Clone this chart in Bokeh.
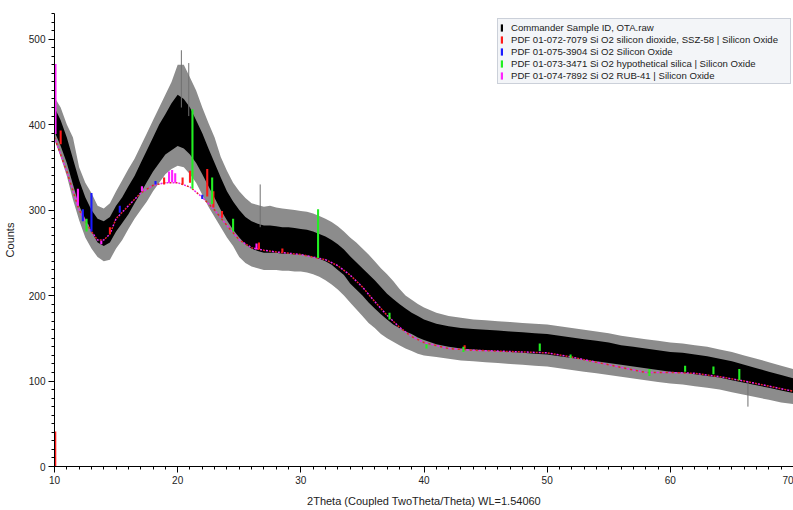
from bokeh.plotting import figure
from bokeh.models import Legend, LegendItem, Range1d, FixedTicker, ColumnDataSource
from bokeh.embed import file_html
from bokeh.resources import INLINE

# ---------------- data ----------------
two_theta = [10.0, 10.5, 11.0, 11.5, 12.0, 12.5, 13.0, 13.5, 14.0, 14.5,
             15.0, 15.5, 16.0, 16.5, 17.0, 17.5, 18.0, 18.5, 19.0, 19.5,
             20.0, 20.5, 21.0, 21.5, 22.0, 22.5, 23.0, 23.5, 24.0, 24.5,
             25.0, 25.5, 26.0, 26.5, 27.0, 27.5, 28.0, 28.5, 29.0, 29.5,
             30.0, 30.5, 31.0, 31.5, 32.0, 32.5, 33.0, 33.5, 34.0, 34.5,
             35.0, 35.5, 36.0, 36.5, 37.0, 37.5, 38.0, 38.5, 39.0, 39.5,
             40.0, 41, 42, 43, 44, 45, 46, 47, 48, 49, 50, 51, 52, 53, 54,
             55, 56, 57, 58, 59, 60, 61, 62, 63, 64, 65, 66, 67, 68, 69, 70]

# dense (black) part of the measured counts
core_lo = [392, 375, 355, 330, 305, 290, 275, 262, 258, 262,
           275, 285, 295, 308, 320, 333, 345, 355, 365, 370,
           375, 372, 365, 355, 342, 328, 314, 300, 288, 277,
           268, 260, 255, 252, 250, 250, 250, 249, 249, 248,
           248, 247, 245, 243, 240, 236, 230, 224, 214, 207,
           200, 192, 185, 178, 172, 166, 162, 158, 155, 151,
           148, 143, 140, 138, 137, 136, 135, 134, 133, 132, 131, 129, 127, 125, 123,
           121, 119, 117, 115, 113, 111, 110, 108, 106, 104, 101, 98, 95, 92, 89, 86]
core_hi = [420, 405, 385, 360, 335, 315, 300, 290, 287, 292,
           305, 315, 328, 340, 355, 370, 385, 400, 412, 425,
           435, 430, 420, 405, 390, 372, 355, 338, 322, 310,
           300, 292, 287, 284, 282, 282, 281, 280, 280, 279,
           278, 277, 275, 272, 269, 265, 260, 254, 246, 239,
           232, 225, 218, 210, 202, 196, 190, 185, 180, 176,
           172, 167, 164, 162, 161, 160, 159, 158, 157, 156, 155, 153, 151, 149, 147,
           145, 142, 140, 138, 136, 134, 133, 131, 129, 126, 123, 119, 115, 111, 107, 103]
# extent of the noise spikes
env_lo = [382, 362, 340, 312, 288, 268, 255, 245, 240, 242,
          255, 265, 278, 290, 300, 310, 322, 332, 342, 348,
          352, 350, 342, 332, 318, 304, 292, 280, 268, 258,
          245, 238, 234, 232, 230, 230, 230, 229, 229, 228,
          228, 227, 225, 222, 218, 213, 207, 200, 192, 184,
          176, 168, 162, 155, 150, 146, 142, 138, 135, 132,
          130, 128, 126, 124, 123, 122, 121, 120, 119, 118, 117, 115, 113, 111, 109,
          107, 105, 103, 101, 99, 97, 96, 94, 92, 90, 87, 84, 81, 78, 75, 73]
env_hi = [432, 420, 400, 385, 350, 332, 320, 305, 302, 308,
          322, 335, 348, 360, 375, 390, 405, 420, 435, 450,
          470, 470, 455, 440, 420, 402, 385, 362, 346, 332,
          322, 314, 308, 306, 304, 305, 303, 302, 301, 300,
          299, 298, 296, 293, 290, 286, 281, 275, 268, 262,
          255, 248, 240, 232, 225, 217, 208, 200, 195, 190,
          186, 180, 176, 174, 172, 171, 170, 169, 168, 167, 166, 164, 162, 160, 158,
          156, 153, 151, 149, 147, 145, 144, 142, 140, 137, 134, 130, 126, 122, 118, 114]

# a few isolated noise spikes
spike_x = [20.3, 20.9, 26.7, 66.3]
spike_lo = [420, 410, 280, 100]
spike_hi = [487, 472, 330, 70]

# fitted background (base of the reference sticks)
bg_x = [10, 11, 12, 13, 13.5, 14, 14.5, 15, 16, 17, 18, 19, 20, 21, 22, 23, 24, 25,
        26, 27, 28, 30, 32, 33, 34, 35, 36, 37, 38, 39, 40, 42, 44, 46, 48, 50,
        52, 54, 56, 58, 60, 62, 64, 66, 68, 70]
bg_y = [385, 345, 300, 275, 265, 265, 272, 290, 305, 320, 329, 332, 332, 327, 315, 300, 282, 265,
        256, 253, 251, 248, 242, 235, 224, 210, 193, 177, 163, 152, 145, 138, 136, 135, 134, 133,
        128, 122, 116, 110, 110, 109, 105, 100, 94, 88]

# reference patterns: position, base counts, top counts
red_x = [10.06, 10.5, 14.5, 18.9, 20.4, 21.0, 22.4, 22.9, 23.6, 26.6, 28.5, 43.3]
red_lo = [0, 377, 272, 330, 330, 332, 316, 303, 291, 254, 250, 138]
red_hi = [41, 393, 280, 338, 338, 346, 348, 322, 299, 262, 255, 142]

blue_x = [12.3, 13.0, 15.3, 18.2, 22.0]
blue_lo = [287, 275, 297, 330, 313]
blue_hi = [301, 320, 305, 334, 318]

green_x = [12.6, 21.2, 22.8, 24.5, 31.4, 37.2, 40.2, 43.2, 49.4, 51.9, 58.3, 61.2, 63.5, 65.6]
green_lo = [275, 325, 307, 275, 244, 172, 138, 134, 135, 127, 106, 111, 108, 101]
green_hi = [290, 418, 338, 290, 301, 180, 143, 140, 144, 131, 114, 118, 117, 114]

magenta_x = [10.08, 11.9, 13.8, 17.1, 19.3, 19.55, 19.8, 26.4]
magenta_lo = [389, 305, 260, 322, 332, 333, 332, 254]
magenta_hi = [471, 325, 264, 328, 345, 347, 343, 261]

legend_labels = ["Commander Sample ID, OTA.raw",
                 "PDF 01-072-7079 Si O2 silicon dioxide, SSZ-58 | Silicon Oxide",
                 "PDF 01-075-3904 Si O2 Silicon Oxide",
                 "PDF 01-073-3471 Si O2 hypothetical silica | Silicon Oxide",
                 "PDF 01-074-7892 Si O2 RUB-41 | Silicon Oxide"]

x_ticks = [10, 20, 30, 40, 50, 60, 70]
y_ticks = [0, 100, 200, 300, 400, 500]

# ---------------- figure ----------------
FONT = "Liberation Sans"
p = figure(width=793, height=510, output_backend="svg", toolbar_location=None,
           x_range=Range1d(10, 70), y_range=Range1d(0, 530))
p.min_border_left = 52
p.min_border_right = 0
p.min_border_top = 13
p.min_border_bottom = 44
p.outline_line_color = None
p.xgrid.visible = False
p.ygrid.visible = False
p.background_fill_color = "white"

src = ColumnDataSource(dict(x=two_theta, clo=core_lo, chi=core_hi, elo=env_lo, ehi=env_hi))
r_env = p.varea(x="x", y1="elo", y2="ehi", source=src, fill_color="#8c8c8c")
r_core = p.varea(x="x", y1="clo", y2="chi", source=src, fill_color="black")
p.segment(x0=spike_x, y0=spike_lo, x1=spike_x, y1=spike_hi, line_color="#707070", line_width=1)

p.line(bg_x, bg_y, line_color="#e8202a", line_width=1.5, line_dash="2 4")
p.line(bg_x, bg_y, line_color="#ee22ee", line_width=1.5, line_dash="2 4", line_dash_offset=3)

W = 0.17
r_red = p.vbar(x=red_x, bottom=red_lo, top=red_hi, width=W, fill_color="#ff1a1a", line_color=None)
r_blue = p.vbar(x=blue_x, bottom=blue_lo, top=blue_hi, width=W, fill_color="#1a1aff", line_color=None)
r_green = p.vbar(x=green_x, bottom=green_lo, top=green_hi, width=W, fill_color="#22ee22", line_color=None)
r_mag = p.vbar(x=magenta_x, bottom=magenta_lo, top=magenta_hi, width=W, fill_color="#ff22ff", line_color=None)

# axes
p.xaxis.ticker = FixedTicker(ticks=x_ticks, minor_ticks=list(range(10, 71)))
p.yaxis.ticker = FixedTicker(ticks=y_ticks, minor_ticks=list(range(0, 531, 10)))
for ax in (p.xaxis[0], p.yaxis[0]):
    ax.axis_line_color = "black"
    ax.major_tick_line_color = "black"
    ax.minor_tick_line_color = "black"
    ax.major_tick_in = 0
    ax.minor_tick_in = 0
    ax.major_tick_out = 6
    ax.minor_tick_out = 3
    ax.major_label_text_font = FONT
    ax.major_label_text_font_size = "10px"
    ax.major_label_text_color = "#222222"
    ax.major_label_standoff = 3
    ax.axis_label_text_font = FONT
    ax.axis_label_text_font_size = "11px"
    ax.axis_label_text_font_style = "normal"
    ax.axis_label_text_color = "#222222"
p.xaxis.axis_label = "2Theta (Coupled TwoTheta/Theta) WL=1.54060"
p.yaxis.axis_label = "Counts"
p.xaxis.axis_label_standoff = 8
p.yaxis.axis_label_standoff = 10

legend = Legend(items=[LegendItem(label=legend_labels[0], renderers=[r_core]),
                       LegendItem(label=legend_labels[1], renderers=[r_red]),
                       LegendItem(label=legend_labels[2], renderers=[r_blue]),
                       LegendItem(label=legend_labels[3], renderers=[r_green]),
                       LegendItem(label=legend_labels[4], renderers=[r_mag])],
                location=(443, 382))
legend.label_text_font = FONT
legend.label_text_font_size = "9.6px"
legend.label_text_color = "#222222"
legend.label_height = 12
legend.label_width = 277
legend.glyph_height = 9
legend.glyph_width = 3
legend.label_standoff = 8
legend.spacing = 0
legend.padding = 2
legend.margin = 0
legend.border_line_color = "#a3acb9"
legend.background_fill_color = "#f3f5f8"
legend.background_fill_alpha = 1.0
p.add_layout(legend)

open("out.html", "w").write(file_html(p, INLINE))
